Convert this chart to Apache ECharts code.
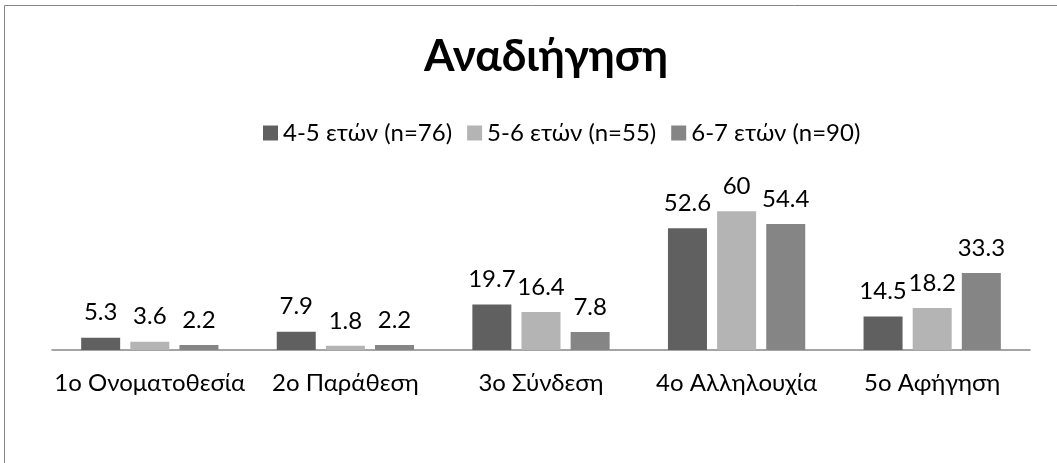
<!DOCTYPE html>
<html>
<head>
<meta charset="utf-8">
<script src="https://cdn.jsdelivr.net/npm/echarts@6/dist/echarts.min.js"></script>
<style>
  html, body { margin: 0; padding: 0; background: #ffffff; }
  #chart { width: 1057px; height: 463px; }
</style>
</head>
<body>
<div id="chart"></div>
<script>
// Story retelling stages and percentage per age group
const categories = ['1o Ονοματοθεσία', '2o Παράθεση', '3o Σύνδεση', '4o Αλληλουχία', '5o Αφήγηση'];
const seriesNames = ['4-5 ετών (n=76)', '5-6 ετών (n=55)', '6-7 ετών (n=90)'];
const age45 = [5.3, 7.9, 19.7, 52.6, 14.5];
const age56 = [3.6, 1.8, 16.4, 60, 18.2];
const age67 = [2.2, 2.2, 7.8, 54.4, 33.3];
const colors = ['#606060', '#b4b4b4', '#858585'];

const FONT = 'Lato, "Open Sans", sans-serif';
const chart = echarts.init(document.getElementById('chart'));

const makeSeries = (name, data, color) => ({
  name: name,
  type: 'bar',
  data: data,
  barWidth: 39,
  barGap: '26%',
  itemStyle: { color: color },
  label: {
    show: true,
    position: 'top',
    distance: 13,
    color: '#000',
    fontSize: 24,
    fontFamily: FONT
  }
});

chart.setOption({
  animation: false,
  title: {
    text: 'Αναδιήγηση',
    left: 419,
    top: 30,
    textStyle: { fontSize: 44, fontWeight: 'bold', color: '#000', fontFamily: FONT }
  },
  legend: {
    top: 116,
    left: 258,
    itemWidth: 15,
    itemHeight: 15,
    itemGap: 15,
    icon: 'rect',
    textStyle: { fontSize: 24, color: '#000', fontFamily: FONT },
    data: seriesNames
  },
  grid: { left: 52, right: 27, top: 188, bottom: 113, containLabel: false },
  xAxis: {
    type: 'category',
    data: categories,
    axisLine: { lineStyle: { color: '#868686', width: 1.5 } },
    axisTick: { show: false },
    axisLabel: { color: '#000', fontSize: 24, fontFamily: FONT, margin: 21, interval: 0 }
  },
  yAxis: {
    type: 'value',
    min: 0,
    max: 70,
    show: false
  },
  graphic: [{
    type: 'rect',
    shape: { x: 4.5, y: 5.5, width: 1100, height: 500 },
    style: { fill: 'none', stroke: '#868686', lineWidth: 1 },
    silent: true
  }],
  series: [
    makeSeries(seriesNames[0], age45, colors[0]),
    makeSeries(seriesNames[1], age56, colors[1]),
    makeSeries(seriesNames[2], age67, colors[2])
  ]
});
</script>
</body>
</html>
